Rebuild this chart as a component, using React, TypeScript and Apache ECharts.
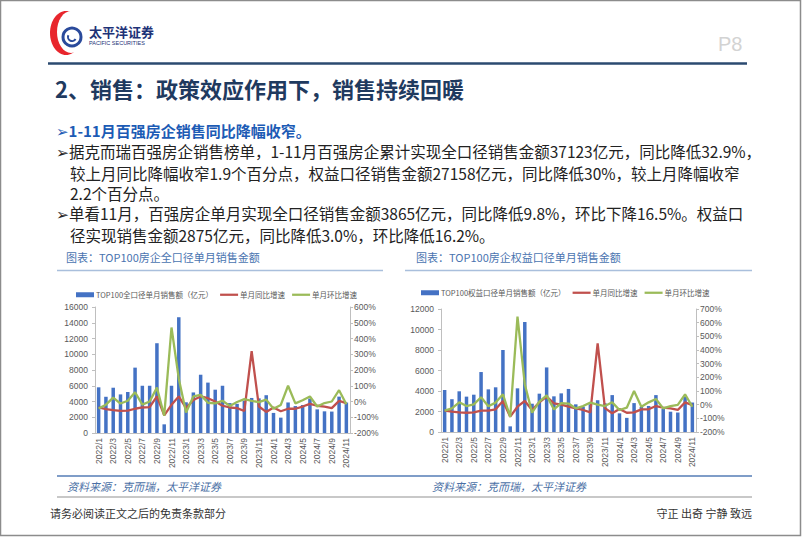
import React, { useEffect, useRef } from "react";
import * as echarts from "echarts";

const months = [
  "2022/1","2022/2","2022/3","2022/4","2022/5","2022/6","2022/7","2022/8","2022/9","2022/10","2022/11","2022/12",
  "2023/1","2023/2","2023/3","2023/4","2023/5","2023/6","2023/7","2023/8","2023/9","2023/10","2023/11","2023/12",
  "2024/1","2024/2","2024/3","2024/4","2024/5","2024/6","2024/7","2024/8","2024/9","2024/10","2024/11",
];

// 全口径
const totalSales = [5800,4600,5750,4900,5200,8300,6000,6000,11400,1100,6000,14700,3900,5150,7400,6400,5500,6000,3800,3700,4100,4450,4400,4800,2550,1950,3880,3420,3550,4380,3000,2750,2720,4620,3865];
const totalYoY = [-38,-48,-55,-60,-58,-46,-38,-36,32,-88,-21,32,-42,10,32,21,0,-27,-38,-42,-60,320,-32,-66,-38,-62,-46,-46,-32,-15,-27,-32,-42,4,-10];
const totalMoM = [-45,-20,25,-13,5,59,-20,0,88,-90,470,145,-70,32,42,-8,-12,5,-28,-3,15,4,-4,12,-46,-22,100,-12,8,32,-32,-10,0,72,-17];

// 权益口径
const equitySales = [4100,3200,3970,3450,3640,5850,4160,4360,8000,550,4260,10730,2760,3740,6300,3480,3770,4200,2700,2480,2700,3100,2800,3600,1820,1380,2820,2450,2540,3600,2250,1980,1900,3450,2875];
const equityYoY = [-44,-51,-56,-59,-56,-44,-44,-34,27,-88,-15,27,-39,17,59,10,0,-15,-27,-39,-56,449,-25,-63,-32,-59,-56,-34,-34,-10,-22,-27,-39,17,-3];
const equityMoM = [-44,-27,17,-10,2,54,-12,15,76,-90,644,150,-58,22,68,-35,12,8,-27,-10,15,0,-10,17,-39,-22,100,-15,17,41,-27,-10,-2,76,-15];

const leftBarName = "TOP100全口径单月销售额（亿元）";
const rightBarName = "TOP100权益口径单月销售额（亿元）";
const yoyName = "单月同比增速";
const momName = "单月环比增速";

const CJK = "'Noto Sans CJK SC', 'DejaVu Sans', sans-serif";
const LAT = "'Liberation Sans', 'Noto Sans CJK SC', sans-serif";

const BLUE = "#4472c4";
const RED = "#c0504d";
const GREEN = "#9bbb59";
const AXIS = "#bfbfbf";
const LABEL = "#595959";
const LINE_ICON = "path://M0,0H40V5H0Z";

function txt(x: number, y: number, text: string, style: any = {}) {
  return {
    type: "text",
    x,
    y,
    silent: true,
    style: {
      text,
      fontFamily: CJK,
      fontSize: 15.5,
      fill: "#222",
      verticalAlign: "middle",
      ...style,
    },
  };
}

function hline(x1: number, x2: number, y: number, color: string, w: number) {
  return {
    type: "line",
    silent: true,
    shape: { x1, y1: y, x2, y2: y },
    style: { stroke: color, lineWidth: w },
  };
}

export default function App() {
  const ref = useRef<HTMLDivElement>(null);
  useEffect(() => {
    if (!ref.current) return;
    const chart = echarts.init(ref.current, null, { renderer: "svg" });

    const plain = (v: number) => String(v);
    const pct = (v: number) => v + "%";

    const yAxisCommon = {
      axisLine: { show: true, lineStyle: { color: AXIS } },
      axisTick: { show: true, length: 3, lineStyle: { color: AXIS } },
      splitLine: { show: false },
    };
    const labelCommon = { fontSize: 8.5, color: LABEL, fontFamily: LAT };
    const xAxisCommon = {
      type: "category",
      data: months,
      boundaryGap: true,
      axisLine: { show: true, lineStyle: { color: AXIS } },
      axisTick: { show: false },
      axisLabel: { rotate: 90, interval: 1, fontSize: 8.5, color: LABEL, fontFamily: LAT, margin: 5 },
    };
    const legendCommon = {
      orient: "horizontal",
      padding: 0,
      itemWidth: 18,
      itemHeight: 5,
      itemGap: 7,
      textStyle: { fontSize: 7.5, color: LABEL, fontFamily: CJK, padding: [0, 0, 0, -3] },
    };

    const option: any = {
      animation: false,
      backgroundColor: "#fff",
      grid: [
        { left: 95, top: 307, width: 255, height: 126 },
        { left: 441, top: 309, width: 255, height: 123 },
      ],
      legend: [
        {
          ...legendCommon, left: 76, top: 291,
          data: [{ name: leftBarName, icon: "rect" }, { name: yoyName, icon: LINE_ICON }, { name: momName, icon: LINE_ICON }],
        },
        {
          ...legendCommon, left: 421, top: 289,
          data: [{ name: rightBarName, icon: "rect" }, { name: yoyName, icon: LINE_ICON }, { name: momName, icon: LINE_ICON }],
        },
      ],
      xAxis: [
        { ...xAxisCommon, gridIndex: 0 },
        { ...xAxisCommon, gridIndex: 1 },
      ],
      yAxis: [
        { ...yAxisCommon, type: "value", gridIndex: 0, min: 0, max: 16000, interval: 2000, axisLabel: { ...labelCommon, formatter: plain, margin: 7 } },
        { ...yAxisCommon, type: "value", gridIndex: 0, position: "right", min: -200, max: 600, interval: 100, axisLabel: { ...labelCommon, formatter: pct, margin: 4 } },
        { ...yAxisCommon, type: "value", gridIndex: 1, min: 0, max: 12000, interval: 2000, axisLabel: { ...labelCommon, formatter: plain, margin: 7 } },
        { ...yAxisCommon, type: "value", gridIndex: 1, position: "right", min: -200, max: 700, interval: 100, axisLabel: { ...labelCommon, formatter: pct, margin: 4 } },
      ],
      series: [
        { name: leftBarName, type: "bar", xAxisIndex: 0, yAxisIndex: 0, data: totalSales, barWidth: "48%", itemStyle: { color: BLUE } },
        { name: yoyName, type: "line", xAxisIndex: 0, yAxisIndex: 1, data: totalYoY, symbol: "none", lineStyle: { color: RED, width: 2.3 }, itemStyle: { color: RED } },
        { name: momName, type: "line", xAxisIndex: 0, yAxisIndex: 1, data: totalMoM, symbol: "none", lineStyle: { color: GREEN, width: 2.3 }, itemStyle: { color: GREEN } },
        { name: rightBarName, type: "bar", xAxisIndex: 1, yAxisIndex: 2, data: equitySales, barWidth: "48%", itemStyle: { color: BLUE } },
        { name: yoyName, type: "line", xAxisIndex: 1, yAxisIndex: 3, data: equityYoY, symbol: "none", lineStyle: { color: RED, width: 2.3 }, itemStyle: { color: RED } },
        { name: momName, type: "line", xAxisIndex: 1, yAxisIndex: 3, data: equityMoM, symbol: "none", lineStyle: { color: GREEN, width: 2.3 }, itemStyle: { color: GREEN } },
      ],
      graphic: [
        // frame
        { type: "rect", silent: true, shape: { x: 0.5, y: 0.5, width: 800, height: 535 }, style: { fill: "none", stroke: "#8c8c8c", lineWidth: 1.5 } },
        // logo
        { type: "ellipse", silent: true, shape: { cx: 66, cy: 33, rx: 16, ry: 22 }, style: { fill: "#e8262d" } },
        { type: "ellipse", silent: true, shape: { cx: 71, cy: 32, rx: 14, ry: 21 }, style: { fill: "#fff" } },
        { type: "circle", silent: true, shape: { cx: 72, cy: 37, r: 9 }, style: { fill: "#fff", stroke: "#2a4a9b", lineWidth: 3 } },
        { type: "arc", silent: true, shape: { cx: 72, cy: 37, r: 4, startAngle: 0.5, endAngle: 3.6 }, style: { stroke: "#2a4a9b", lineWidth: 2, fill: "none" } },
        txt(89, 31, "太平洋证券", { fontSize: 13, fontWeight: "bold", fill: "#1d3277" }),
        txt(89, 43, "PACIFIC SECURITIES", { fontSize: 5.5, fill: "#1d3277", fontFamily: LAT }),
        txt(718, 44, "P8", { fontSize: 20, fill: "#d3d3d3", fontFamily: LAT }),
        // header rule
        hline(48, 747, 63.5, "#2b4a70", 2.5),
        txt(55, 88, "2、销售：政策效应作用下，销售持续回暖", { fontSize: 22, fontWeight: "bold", fill: "#1f3a5f" }),
        // text body
        txt(56, 130, "➢1-11月百强房企销售同比降幅收窄。", { fontSize: 15, fontWeight: "bold", fill: "#1c5bb5" }),
        txt(56, 151, "➢据克而瑞百强房企销售榜单，1-11月百强房企累计实现全口径销售金额37123亿元，同比降低32.9%，"),
        txt(70, 173, "较上月同比降幅收窄1.9个百分点，权益口径销售金额27158亿元，同比降低30%，较上月降幅收窄"),
        txt(70, 193, "2.2个百分点。"),
        txt(56, 213, "➢单看11月，百强房企单月实现全口径销售金额3865亿元，同比降低9.8%，环比下降16.5%。权益口"),
        txt(70, 235, "径实现销售金额2875亿元，同比降低3.0%，环比降低16.2%。"),
        // chart titles
        txt(66, 257, "图表：TOP100房企全口径单月销售金额", { fontSize: 11, fill: "#4a74b0" }),
        txt(416, 257, "图表：TOP100房企权益口径单月销售金额", { fontSize: 11, fill: "#4a74b0" }),
        hline(57, 383, 270.5, "#a9bfdc", 1.5),
        hline(405, 752, 270.5, "#a9bfdc", 1.5),
        // sources
        hline(57, 752, 476, "#7f9dc8", 2),
        txt(67, 486, "资料来源：克而瑞，太平洋证券", { fontSize: 11, fill: "#4a6fa5", fontStyle: "italic" }),
        txt(432, 486, "资料来源：克而瑞，太平洋证券", { fontSize: 11, fill: "#4a6fa5", fontStyle: "italic" }),
        hline(57, 752, 497, "#c8c8c8", 2),
        // footer
        txt(50, 513, "请务必阅读正文之后的免责条款部分", { fontSize: 11, fill: "#333" }),
        txt(752, 513, "守正 出奇 宁静 致远", { fontSize: 11, fill: "#333", align: "right" }),
      ],
    };
    chart.setOption(option);
    return () => chart.dispose();
  }, []);
  return (
    <div
      ref={ref}
      style={{ position: "absolute", left: 0, top: 0, width: 802, height: 537, background: "#fff" }}
    />
  );
}
